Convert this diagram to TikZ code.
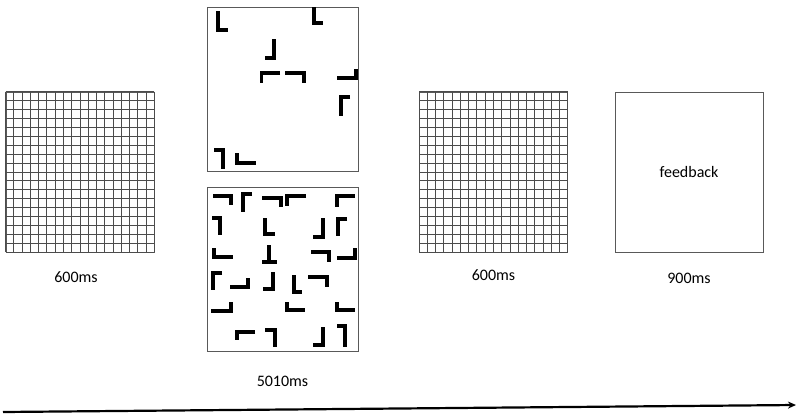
\documentclass[tikz,border=0pt]{standalone}
\usepackage{fontspec}
\setmainfont{Carlito}
\usetikzlibrary{positioning, calc, arrows.meta}

\begin{document}
\begin{tikzpicture}[
    x=1pt, y=-1pt,
    font=\fontsize{16}{19}\selectfont,
    panel/.style={rectangle, draw=black!65, line width=0.9pt, minimum width=148pt, minimum height=160pt, inner sep=0pt, fill=white},
    searchpanel/.style={panel, minimum width=151pt, minimum height=164pt},
    gridline/.style={draw=black!70, line width=1pt},
    bar/.style={line width=3.4pt, line join=miter},
    timeline/.style={-{Stealth[length=8pt, width=7pt]}, line width=2.2pt}
]
\useasboundingbox (0,0) rectangle (798,415);

% panels
\node[panel] (fix1) at (80,172) {};
\node[searchpanel] (search1) at (282.5,89) {};
\node[searchpanel] (search2) at (282.5,269) {};
\node[panel] (fix2) at (493.5,172) {};
\node[panel] (fb) at (689,172.5) {feedback};

% fixation grids
\foreach \p in {fix1, fix2} {
  \foreach \i in {0,...,18} {
    \draw[gridline] ($(\p.north west)!\i/18!(\p.north east)$) -- ($(\p.south west)!\i/18!(\p.south east)$);
    \draw[gridline] ($(\p.north west)!\i/18!(\p.south west)$) -- ($(\p.north east)!\i/18!(\p.south east)$);
  }
}

% search display, few items
\draw[bar] (218,11) -- (218,30) -- (228,30);
\draw[bar] (314,7) -- (314,23) -- (323,23);
\draw[bar] (274,39) -- (274,58) -- (265,58);
\draw[bar] (280,73) -- (261.5,73) -- (261.5,83);
\draw[bar] (285,73) -- (304,73) -- (304,83);
\draw[bar] (337,78) -- (356,78) -- (356,69);
\draw[bar] (350,97) -- (341,97) -- (341,116);
\draw[bar] (214,150) -- (223,150) -- (223,169);
\draw[bar] (237,153) -- (237,163) -- (256,163);

% search display, many items
\draw[bar] (213,196) -- (231,196) -- (231,205);
\draw[bar] (252,194) -- (243,194) -- (243,212);
\draw[bar] (262,198) -- (281,198) -- (281,207);
\draw[bar] (306,196) -- (287,196) -- (287,206);
\draw[bar] (355,196) -- (337,196) -- (337,207);
\draw[bar] (212,218) -- (220,218) -- (220,235);
\draw[bar] (265,218) -- (265,234) -- (275,234);
\draw[bar] (323,218) -- (323,237) -- (313,237);
\draw[bar] (347,219) -- (338,219) -- (338,236);
\draw[bar] (214,248) -- (214,257) -- (233,257);
\draw[bar] (269,245) -- (269,262); \draw[bar] (262,262) -- (277,262);
\draw[bar] (311,252) -- (329,252) -- (329,262);
\draw[bar] (337,258) -- (355,258) -- (355,248);
\draw[bar] (222,273) -- (213,273) -- (213,290);
\draw[bar] (230,287) -- (248,287) -- (248,278);
\draw[bar] (273,272) -- (273,289) -- (263,289);
\draw[bar] (294,275) -- (294,292) -- (302,292);
\draw[bar] (308,277) -- (327,277) -- (327,287);
\draw[bar] (211,311) -- (231,311) -- (231,302);
\draw[bar] (287,302) -- (287,310) -- (305,310);
\draw[bar] (337,302) -- (337,310) -- (355,310);
\draw[bar] (255,332) -- (237,332) -- (237,340);
\draw[bar] (265,330) -- (275,330) -- (275,347);
\draw[bar] (323,327) -- (323,345) -- (313,345);
\draw[bar] (337,326) -- (345,326) -- (345,347);

% durations
\node[below=16pt of fix1, xshift=-4pt] (t1) {600ms};
\node[below=21pt of search2] (t2) {5010ms};
\node[below=14pt of fix2] (t3) {600ms};
\node[below=17pt of fb] (t4) {900ms};

% time axis
\coordinate (tstart) at (3,412);
\coordinate (tend) at (796,405);
\draw[timeline] (tstart) -- (tend);
\end{tikzpicture}
\end{document}
